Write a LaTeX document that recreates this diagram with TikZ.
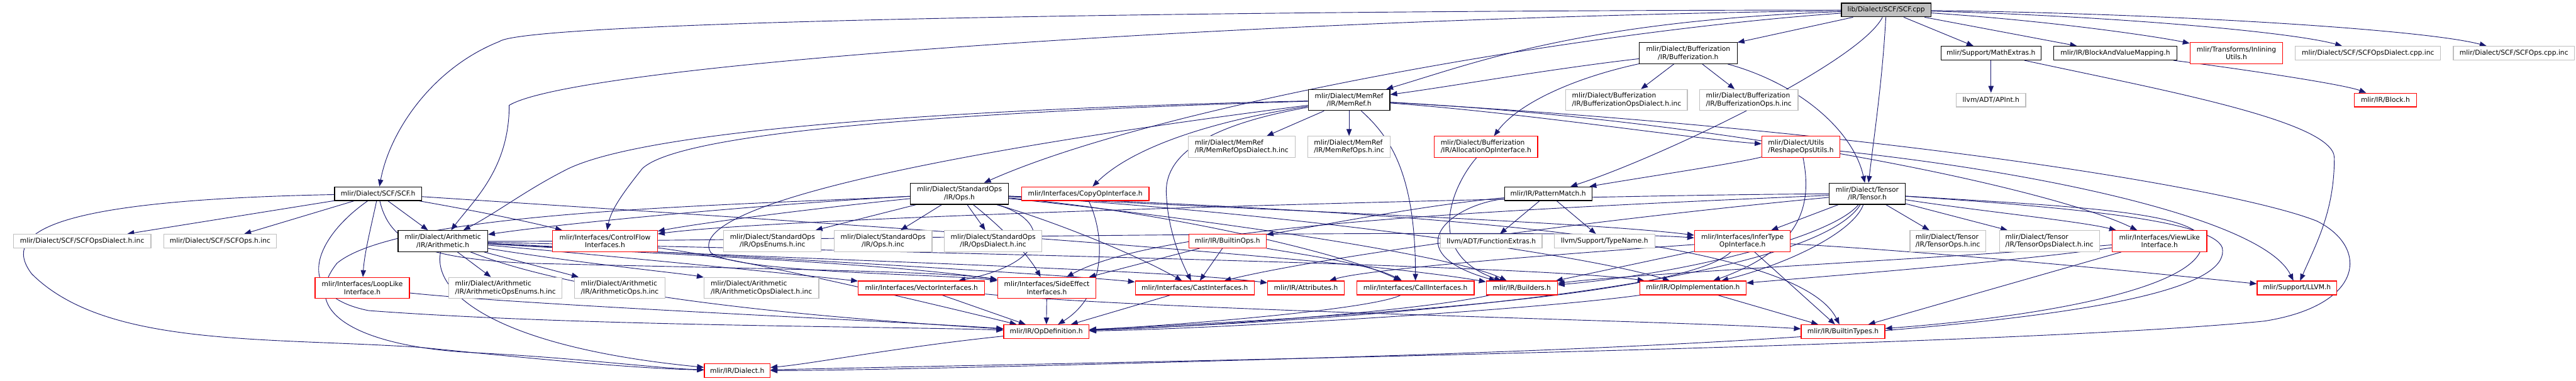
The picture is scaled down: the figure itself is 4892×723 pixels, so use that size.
\documentclass[tikz,border=0pt]{standalone}
\usepackage{fontspec}
\newfontfamily\dvs{DejaVu Sans}
\usetikzlibrary{arrows.meta,backgrounds}
\definecolor{edgec}{HTML}{191970}
\definecolor{gcol}{HTML}{BFBFBF}
\definecolor{rcol}{HTML}{FF0000}
\newbox\twola \newbox\twolb \newdimen\twolw
\newcommand\twol[2]{\setbox\twola=\hbox{#1}\setbox\twolb=\hbox{#2}\twolw=\wd\twola \ifdim\wd\twolb>\twolw \twolw=\wd\twolb \fi\vbox{\hbox to\twolw{\box\twola\hfil}\hbox to\twolw{\hfil\box\twolb\hfil}}}
\tikzset{
  nb/.style={rectangle, draw, fill=white, inner sep=0pt, line width=0.75pt, font=\dvs\fontsize{6.4}{7.5}\selectfont},
  blk/.style={nb, draw=black},
  rnd/.style={nb, draw=rcol},
  gry/.style={nb, draw=gcol},
  sz/.style n args={2}{minimum width={#1*0.5pt}, minimum height={#2*0.5pt}},
  e/.style={draw=edgec, line width=0.55pt, -{Triangle[length=6.5pt,width=5pt]}, fill=none}
}
\begin{document}
\begin{tikzpicture}[x=0.5pt,y=-0.5pt]
\useasboundingbox (0,0) rectangle (4892,723);
% row 1
\node[blk, fill=gcol, sz={170}{26}] (scfcpp) at (3582,19) {lib/Dialect/SCF/SCF.cpp};
\node[blk, sz={186}{40}] (buff) at (3206,101) {\twol{mlir/Dialect/Bufferization}{/IR/Bufferization.h}};
\node[blk, sz={190}{26}] (mathx) at (3781,101) {mlir/Support/MathExtras.h};
\node[blk, sz={234}{26}] (bavm) at (4017,101) {mlir/IR/BlockAndValueMapping.h};
\node[rnd, sz={176}{40}] (inline) at (4247,101) {\twol{mlir/Transforms/Inlining}{Utils.h}};
\node[gry, sz={276}{26}] (scfopsdialcpp) at (4497,101) {mlir/Dialect/SCF/SCFOpsDialect.cpp.inc};
\node[gry, sz={230}{26}] (scfopscpp) at (4774,101) {mlir/Dialect/SCF/SCFOps.cpp.inc};
% row 3
\node[blk, sz={155}{40}] (memref) at (2562,190) {\twol{mlir/Dialect/MemRef}{/IR/MemRef.h}};
\node[gry, sz={231}{40}] (buffopsdial) at (3089,190) {\twol{mlir/Dialect/Bufferization}{/IR/BufferizationOpsDialect.h.inc}};
\node[gry, sz={187}{40}] (buffops) at (3321,190) {\twol{mlir/Dialect/Bufferization}{/IR/BufferizationOps.h.inc}};
\node[gry, sz={132}{26}] (apint) at (3781,190) {llvm/ADT/APInt.h};
\node[rnd, sz={119}{26}] (block) at (4530,190) {mlir/IR/Block.h};
% row 4
\node[gry, sz={203}{40}] (memrefopsdial) at (2358,279) {\twol{mlir/Dialect/MemRef}{/IR/MemRefOpsDialect.h.inc}};
\node[gry, sz={156}{40}] (memrefops) at (2562,279) {\twol{mlir/Dialect/MemRef}{/IR/MemRefOps.h.inc}};
\node[rnd, sz={196}{40}] (allocop) at (2822,279) {\twol{mlir/Dialect/Bufferization}{/IR/AllocationOpInterface.h}};
\node[rnd, sz={148}{40}] (reshape) at (3420,279) {\twol{mlir/Dialect/Utils}{/ReshapeOpsUtils.h}};
% row 5
\node[blk, sz={165}{26}] (scfh) at (718,368) {mlir/Dialect/SCF/SCF.h};
\node[blk, sz={186}{40}] (stdops) at (1822,368) {\twol{mlir/Dialect/StandardOps}{/IR/Ops.h}};
\node[rnd, sz={242}{26}] (copyop) at (2061,368) {mlir/Interfaces/CopyOpInterface.h};
\node[blk, sz={166}{26}] (pm) at (2940,368) {mlir/IR/PatternMatch.h};
\node[blk, sz={144}{40}] (tensor) at (3546,368) {\twol{mlir/Dialect/Tensor}{/IR/Tensor.h}};
% row 6
\node[gry, sz={261}{26}] (scfopsdial) at (156,458) {mlir/Dialect/SCF/SCFOpsDialect.h.inc};
\node[gry, sz={214}{26}] (scfops) at (418,458) {mlir/Dialect/SCF/SCFOps.h.inc};
\node[blk, sz={170}{40}] (arith) at (841,458) {\twol{mlir/Dialect/Arithmetic}{/IR/Arithmetic.h}};
\node[rnd, sz={199}{40}] (cf) at (1149,458) {\twol{mlir/Interfaces/ControlFlow}{Interfaces.h}};
\node[gry, sz={185}{40}] (opsenums) at (1467,458) {\twol{mlir/Dialect/StandardOps}{/IR/OpsEnums.h.inc}};
\node[gry, sz={186}{40}] (opshinc) at (1677,458) {\twol{mlir/Dialect/StandardOps}{/IR/Ops.h.inc}};
\node[gry, sz={185}{40}] (opsdial) at (1886,458) {\twol{mlir/Dialect/StandardOps}{/IR/OpsDialect.h.inc}};
\node[rnd, sz={147}{26}] (builtinops) at (2331,458) {mlir/IR/BuiltinOps.h};
\node[gry, sz={193}{26}] (funcext) at (2832,458) {llvm/ADT/FunctionExtras.h};
\node[gry, sz={191}{26}] (typename) at (3047,458) {llvm/Support/TypeName.h};
\node[rnd, sz={182}{40}] (infer) at (3309,458) {\twol{mlir/Interfaces/InferType}{OpInterface.h}};
\node[gry, sz={144}{40}] (tensorops) at (3699,458) {\twol{mlir/Dialect/Tensor}{/IR/TensorOps.h.inc}};
\node[gry, sz={190}{40}] (tensoropsdial) at (3892,458) {\twol{mlir/Dialect/Tensor}{/IR/TensorOpsDialect.h.inc}};
\node[rnd, sz={180}{40}] (viewlike) at (4101,458) {\twol{mlir/Interfaces/ViewLike}{Interface.h}};
% row 7
\node[rnd, sz={179}{40}] (looplike) at (688,547) {\twol{mlir/Interfaces/LoopLike}{Interface.h}};
\node[gry, sz={215}{40}] (arithenums) at (960,547) {\twol{mlir/Dialect/Arithmetic}{/IR/ArithmeticOpsEnums.h.inc}};
\node[gry, sz={172}{40}] (arithops) at (1177,547) {\twol{mlir/Dialect/Arithmetic}{/IR/ArithmeticOps.h.inc}};
\node[gry, sz={218}{40}] (arithdial) at (1446,547) {\twol{mlir/Dialect/Arithmetic}{/IR/ArithmeticOpsDialect.h.inc}};
\node[rnd, sz={240}{26}] (vectorif) at (1750,547) {mlir/Interfaces/VectorInterfaces.h};
\node[rnd, sz={187}{40}] (sideeffect) at (1988,547) {\twol{mlir/Interfaces/SideEffect}{Interfaces.h}};
\node[rnd, sz={226}{26}] (castif) at (2269,547) {mlir/Interfaces/CastInterfaces.h};
\node[rnd, sz={145}{26}] (attributes) at (2480,547) {mlir/IR/Attributes.h};
\node[rnd, sz={223}{26}] (callif) at (2688,547) {mlir/Interfaces/CallInterfaces.h};
\node[rnd, sz={135}{26}] (builders) at (2890,547) {mlir/IR/Builders.h};
\node[rnd, sz={202}{26}] (opimpl) at (3215,547) {mlir/IR/OpImplementation.h};
\node[rnd, sz={151}{26}] (llvm) at (4362,547) {mlir/Support/LLVM.h};
% row 8, 9
\node[rnd, sz={162}{26}] (opdef) at (1987,630) {mlir/IR/OpDefinition.h};
\node[rnd, sz={159}{26}] (builtintypes) at (3500,630) {mlir/IR/BuiltinTypes.h};
\node[rnd, sz={125}{26}] (dialect) at (1400,704) {mlir/IR/Dialect.h};

\begin{pgfonlayer}{background}
\fill[white] (0,0) rectangle (4892,723);
% SCF.cpp
\draw[e] (scfcpp) .. controls (2300,20) and (1000,40) .. (948,79) .. controls (820,130) and (740,250) .. (scfh);
\draw[e] (scfcpp) .. controls (2400,35) and (1100,120) .. (967,200) .. controls (967,320) and (900,380) .. (arith);
\draw[e] (scfcpp) -- (buff);
\draw[e] (scfcpp) .. controls (3000,40) and (2800,120) .. (memref);
\draw[e] (scfcpp) .. controls (3000,60) and (2200,200) .. (stdops);
\draw[e] (scfcpp) .. controls (3575,150) and (3560,250) .. (tensor);
\draw[e] (scfcpp) .. controls (3530,120) and (3150,300) .. (pm);
\draw[e] (scfcpp) -- (mathx);
\draw[e] (scfcpp) -- (bavm);
\draw[e] (scfcpp) .. controls (3900,40) and (4100,70) .. (inline);
\draw[e] (scfcpp) .. controls (4000,30) and (4350,60) .. (scfopsdialcpp);
\draw[e] (scfcpp) .. controls (4100,25) and (4600,55) .. (scfopscpp);
% Bufferization
\draw[e] (buff) .. controls (2950,130) and (2750,165) .. (memref);
\draw[e] (buff) -- (buffopsdial);
\draw[e] (buff) -- (buffops);
\draw[e] (buff) .. controls (2980,150) and (2880,200) .. (allocop);
\draw[e] (buff) .. controls (3420,160) and (3520,250) .. (tensor);
% MathExtras, BAVM
\draw[e] (mathx) -- (apint);
\draw[e] (mathx) .. controls (4100,170) and (4433,230) .. (4433,300) .. controls (4433,400) and (4400,460) .. (llvm);
\draw[e] (bavm) .. controls (4250,130) and (4450,160) .. (block);
% MemRef
\draw[e] (memref) -- (memrefopsdial);
\draw[e] (memref) -- (memrefops);
\draw[e] (memref) .. controls (1900,205) and (1250,240) .. (1080,320) .. controls (1000,360) and (950,400) .. (arith);
\draw[e] (memref) .. controls (1900,210) and (1300,245) .. (1220,320) .. controls (1180,370) and (1160,400) .. (cf);
\draw[e] (memref) .. controls (2300,230) and (2150,280) .. (copyop);
\draw[e] (memref) .. controls (2900,215) and (3200,262) .. (reshape);
\draw[e] (memref) .. controls (2280,240) and (2210,300) .. (2215,370) .. controls (2218,440) and (2245,500) .. (castif);
\draw[e] (memref) .. controls (2640,260) and (2688,330) .. (callif);
\draw[e] (memref) .. controls (1700,300) and (1300,400) .. (1350,480) .. controls (1400,520) and (1800,520) .. (sideeffect);
\draw[e] (memref) .. controls (3300,230) and (3900,360) .. (viewlike);
\draw[e] (memref) .. controls (3600,250) and (4250,360) .. (4400,420) .. controls (4500,470) and (4490,580) .. (4300,610) .. controls (3800,660) and (2000,690) .. (dialect);
% Reshape
\draw[e] (reshape) .. controls (3300,310) and (3100,340) .. (pm);
\draw[e] (reshape) .. controls (3440,380) and (3430,470) .. (opimpl);
\draw[e] (reshape) .. controls (3900,330) and (4300,420) .. (llvm);
% SCF.h
\draw[e] (scfh) -- (scfopsdial);
\draw[e] (scfh) -- (scfops);
\draw[e] (scfh) .. controls (705,430) and (692,480) .. (looplike);
\draw[e] (scfh) -- (arith);
\draw[e] (scfh) .. controls (100,380) and (0,440) .. (60,520) .. controls (200,660) and (500,640) .. (800,660) .. controls (1000,680) and (1200,700) .. (dialect);
\draw[e] (scfh) .. controls (600,450) and (550,560) .. (700,590) .. controls (1100,620) and (1700,620) .. (opdef);
\draw[e] (scfh) .. controls (740,460) and (800,490) .. (1000,500) .. controls (1400,510) and (1800,515) .. (sideeffect);
\draw[e] (scfh) .. controls (900,400) and (1000,420) .. (cf);
\draw[e] (scfh) .. controls (1200,400) and (2500,480) .. (builders);
\draw[e] (looplike) .. controls (1000,580) and (1700,610) .. (opdef);
% Arithmetic
\draw[e] (arith) -- (arithenums);
\draw[e] (arith) -- (arithops);
\draw[e] (arith) .. controls (1100,500) and (1300,520) .. (arithdial);
\draw[e] (arith) .. controls (1200,490) and (1500,520) .. (vectorif);
\draw[e] (arith) .. controls (1200,480) and (1700,500) .. (sideeffect);
\draw[e] (arith) .. controls (1300,480) and (2000,520) .. (castif);
\draw[e] (arith) .. controls (1100,560) and (1500,600) .. (opdef);
\draw[e] (arith) .. controls (1300,470) and (2900,500) .. (opimpl);
\draw[e] (arith) .. controls (1300,460) and (2900,430) .. (infer);
\draw[e] (arith) .. controls (820,560) and (950,660) .. (dialect);
\draw[e] (arith) .. controls (1400,490) and (2200,510) .. (attributes);
% StandardOps
\draw[e] (stdops) -- (opsenums);
\draw[e] (stdops) -- (opshinc);
\draw[e] (stdops) -- (opsdial);
\draw[e] (stdops) .. controls (1500,385) and (1100,420) .. (arith);
\draw[e] (stdops) .. controls (1600,390) and (1350,420) .. (cf);
\draw[e] (stdops) .. controls (2000,420) and (1990,500) .. (vectorif);
\draw[e] (stdops) .. controls (2000,420) and (2150,480) .. (castif);
\draw[e] (stdops) .. controls (2200,400) and (2550,480) .. (callif);
\draw[e] (stdops) .. controls (2300,395) and (3000,420) .. (infer);
\draw[e] (stdops) .. controls (2200,405) and (2750,480) .. (builders);
\draw[e] (stdops) .. controls (2400,400) and (3000,480) .. (opimpl);
\draw[e] (stdops) .. controls (2500,400) and (3400,430) .. (builtintypes);
\draw[e] (stdops) .. controls (1900,430) and (1950,480) .. (sideeffect);
\draw[e] (stdops) .. controls (1400,390) and (760,400) .. (640,500) .. controls (560,600) and (700,660) .. (900,670) .. controls (1100,680) and (1250,700) .. (dialect);
% CopyOp, PatternMatch, AllocOp
\draw[e] (copyop) .. controls (2100,450) and (2100,560) .. (opdef);
\draw[e] (pm) .. controls (2700,390) and (2500,430) .. (builtinops);
\draw[e] (pm) -- (funcext);
\draw[e] (pm) -- (typename);
\draw[e] (pm) .. controls (2750,390) and (2650,480) .. (builders);
\draw[e] (allocop) .. controls (2760,350) and (2700,480) .. (builders);
% Tensor
\draw[e] (tensor) -- (tensorops);
\draw[e] (tensor) -- (tensoropsdial);
\draw[e] (tensor) .. controls (3750,400) and (3950,420) .. (viewlike);
\draw[e] (tensor) -- (infer);
\draw[e] (tensor) .. controls (3520,440) and (3400,500) .. (opimpl);
\draw[e] (tensor) .. controls (3480,450) and (3200,520) .. (builders);
\draw[e] (tensor) .. controls (3450,520) and (2800,600) .. (opdef);
\draw[e] (tensor) .. controls (3900,390) and (4150,400) .. (4180,450) .. controls (4210,540) and (3900,600) .. (builtintypes);
\draw[e] (tensor) .. controls (3950,395) and (4200,420) .. (4220,470) .. controls (4250,600) and (3500,650) .. (2500,680) .. controls (2000,695) and (1600,704) .. (dialect);
\draw[e] (tensor) .. controls (3000,370) and (1500,410) .. (cf);
\draw[e] (tensor) .. controls (3000,420) and (2500,490) .. (castif);
\draw[e] (tensor) .. controls (2800,400) and (2200,430) .. (sideeffect);
% BuiltinOps
\draw[e] (builtinops) -- (sideeffect);
\draw[e] (builtinops) -- (castif);
\draw[e] (builtinops) .. controls (2450,480) and (2600,500) .. (callif);
% InferType
\draw[e] (infer) .. controls (3000,480) and (2600,510) .. (attributes);
\draw[e] (infer) -- (builders);
\draw[e] (infer) -- (builtintypes);
\draw[e] (infer) .. controls (3700,480) and (4100,520) .. (llvm);
\draw[e] (infer) .. controls (3200,560) and (2600,600) .. (opdef);
% ViewLike
\draw[e] (viewlike) .. controls (3700,490) and (3100,520) .. (builders);
\draw[e] (viewlike) .. controls (3800,500) and (3400,530) .. (opimpl);
\draw[e] (viewlike) -- (builtintypes);
% lower rows
\draw[e] (cf) .. controls (1400,490) and (1700,560) .. (opdef);
\draw[e] (vectorif) -- (opdef);
\draw[e] (vectorif) .. controls (2200,590) and (3200,610) .. (builtintypes);
\draw[e] (sideeffect) -- (opdef);
\draw[e] (castif) -- (opdef);
\draw[e] (callif) .. controls (2600,590) and (2200,620) .. (opdef);
\draw[e] (builders) .. controls (2700,590) and (2300,620) .. (opdef);
\draw[e] (opimpl) .. controls (2900,590) and (2300,625) .. (opdef);
\draw[e] (opimpl) -- (builtintypes);
\draw[e] (opdef) .. controls (1700,660) and (1550,690) .. (dialect);
\end{pgfonlayer}
\end{tikzpicture}
\end{document}
